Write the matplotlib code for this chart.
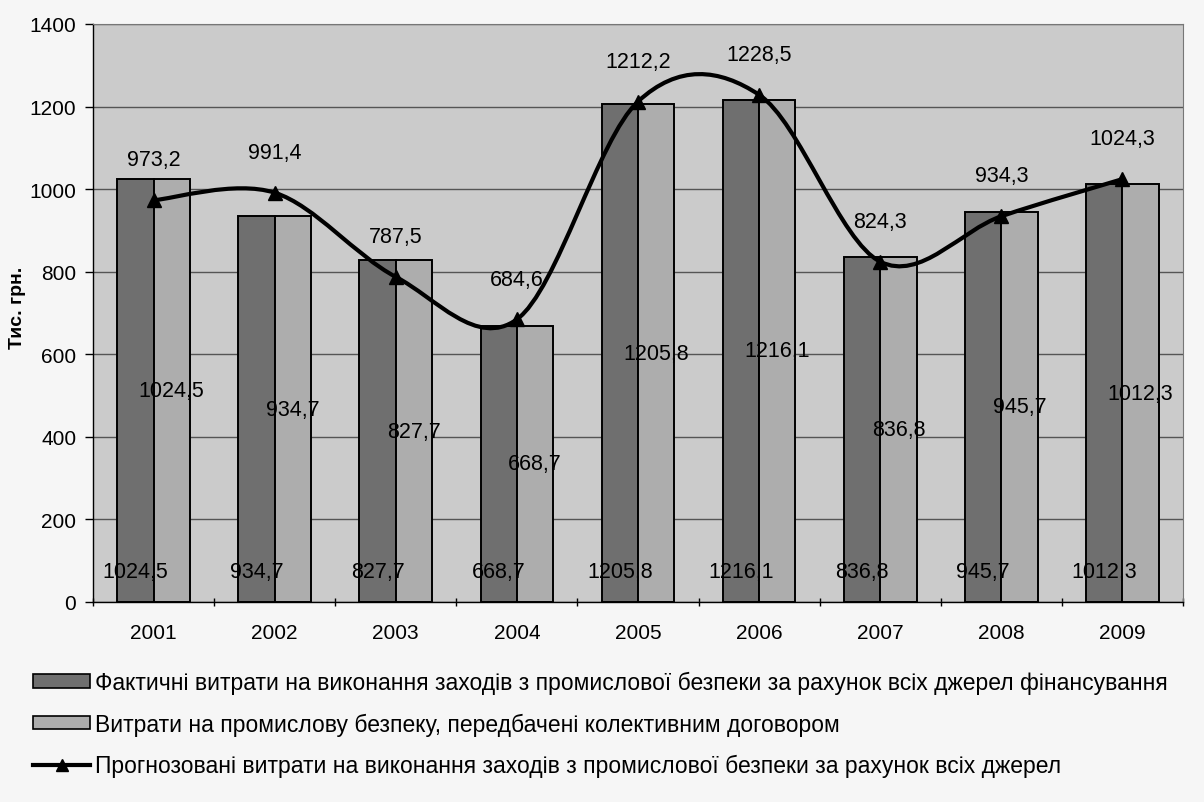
import numpy as np
import matplotlib
matplotlib.use("Agg")
import matplotlib.pyplot as plt
from matplotlib.path import Path
from matplotlib.patches import PathPatch, Patch
from matplotlib.lines import Line2D

plt.rcParams['font.family'] = ['Liberation Sans', 'DejaVu Sans']

# дані
years = ['2001', '2002', '2003', '2004', '2005', '2006', '2007', '2008', '2009']
fact = [1024.5, 934.7, 827.7, 668.7, 1205.8, 1216.1, 836.8, 945.7, 1012.3]
plan = [1024.5, 934.7, 827.7, 668.7, 1205.8, 1216.1, 836.8, 945.7, 1012.3]
prog = [973.2, 991.4, 787.5, 684.6, 1212.2, 1228.5, 824.3, 934.3, 1024.3]

lab_fact = 'Фактичні витрати на виконання заходів з промислової безпеки за рахунок всіх джерел фінансування'
lab_plan = 'Витрати на промислову безпеку, передбачені колективним договором'
lab_prog = 'Прогнозовані витрати на виконання заходів з промислової безпеки за рахунок всіх джерел'

def fmt(v):
    return f"{v:.1f}".replace('.', ',')

fig = plt.figure(figsize=(12.04, 8.03), dpi=100, facecolor='#f6f6f6')
ax = fig.add_axes([93/1204, 1-603/803, (1183-93)/1204, (603-25)/803])
ax.set_facecolor('#cbcbcb')

x = np.arange(len(years))
w = 0.3
c_dark = '#6f6f6f'
c_light = '#adadad'

ax.bar(x - w/2, fact, w, color=c_dark, edgecolor='black', linewidth=1.4, zorder=3)
ax.bar(x + w/2, plan, w, color=c_light, edgecolor='black', linewidth=1.4, zorder=3)

# підписи: фактичні - біля основи, передбачені - по центру стовпця
for i in range(len(years)):
    ax.text(x[i] - w/2, 75, fmt(fact[i]), ha='center', va='center', fontsize=15.5, zorder=6)
    ax.text(x[i] + w/2, plan[i]/2, fmt(plan[i]), ha='center', va='center', fontsize=15.5, zorder=6)

# згладжена лінія (Безьє як в Excel)
pts = list(zip(x.astype(float), prog))
verts = [pts[0]]
codes = [Path.MOVETO]
n = len(pts)
for i in range(n - 1):
    p0 = pts[max(i - 1, 0)]
    p1 = pts[i]
    p2 = pts[i + 1]
    p3 = pts[min(i + 2, n - 1)]
    c1 = (p1[0] + (p2[0] - p0[0]) / 6, p1[1] + (p2[1] - p0[1]) / 6)
    c2 = (p2[0] - (p3[0] - p1[0]) / 6, p2[1] - (p3[1] - p1[1]) / 6)
    verts += [c1, c2, p2]
    codes += [Path.CURVE4, Path.CURVE4, Path.CURVE4]
ax.add_patch(PathPatch(Path(verts, codes), facecolor='none', edgecolor='black', lw=3, zorder=4))
ax.plot(x, prog, linestyle='none', marker='^', color='black', markersize=10, zorder=5)
for i in range(len(years)):
    ax.annotate(fmt(prog[i]), (x[i], prog[i]), xytext=(0, 29), textcoords='offset points',
                ha='center', va='center', fontsize=15.5, zorder=6)

ax.set_xlim(-0.5, len(years) - 0.5)
ax.set_ylim(0, 1400)
ax.set_yticks(np.arange(0, 1401, 200))
ax.yaxis.grid(True, color='#555555', linewidth=1)
ax.set_axisbelow(True)
ax.tick_params(axis='y', labelsize=15, length=6, width=1, pad=6)

ax.set_xticks(np.arange(-0.5, len(years), 1))
ax.set_xticklabels([])
ax.set_xticks(x, minor=True)
ax.set_xticklabels(years, minor=True)
ax.tick_params(axis='x', which='major', length=6, width=1, direction='inout')
ax.tick_params(axis='x', which='minor', length=0, labelsize=15, pad=15)

for s in ['top', 'right']:
    ax.spines[s].set_color('#777777')
ax.spines['left'].set_linewidth(1)
ax.spines['bottom'].set_linewidth(1)

fig.text(17/1204, 1-308/803, 'Тис. грн.', rotation=90, ha='center', va='center',
         fontsize=14, fontweight='bold')

handles = [Patch(facecolor=c_dark, edgecolor='black', linewidth=1.2),
           Patch(facecolor=c_light, edgecolor='black', linewidth=1.2),
           Line2D([], [], color='black', lw=3, marker='^', markersize=9)]
fig.legend(handles, [lab_fact, lab_plan, lab_prog], loc='upper left',
           bbox_to_anchor=(33/1204, 1-672/803), frameon=False, fontsize=16.5,
           handlelength=2.5, handleheight=0.55, handletextpad=0.22, labelspacing=0.8,
           borderpad=0, borderaxespad=0)

fig.savefig('out.png', dpi=100, facecolor=fig.get_facecolor())
